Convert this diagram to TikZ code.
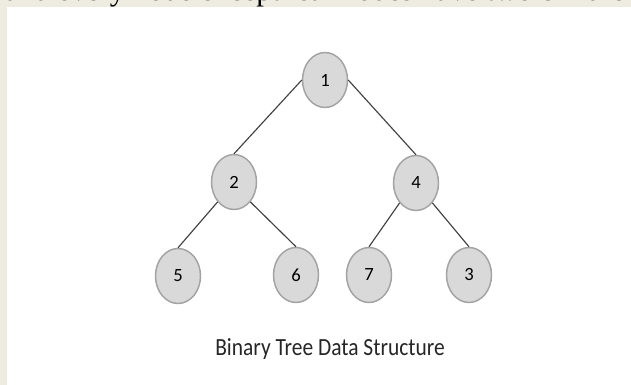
\documentclass[tikz,border=0pt]{standalone}
\usepackage{fontspec}
\setmainfont{Liberation Serif}
\newfontfamily\calibrifont{Carlito}
\usepackage{graphicx}
\usepackage{tikz}
\usetikzlibrary{shapes.geometric}
\definecolor{paper}{RGB}{238,235,224}
\definecolor{nodefill}{RGB}{217,217,217}
\definecolor{nodeline}{RGB}{163,163,163}
\definecolor{branchline}{RGB}{64,64,64}

\begin{document}
\begin{tikzpicture}[x=0.75pt,y=-0.75pt,
  treenode/.style={ellipse,draw=nodeline,line width=1.1pt,fill=nodefill,
    minimum width=33.75pt,minimum height=41.25pt,inner sep=0pt,
    font=\calibrifont\fontsize{14}{14}\selectfont},
  branch/.style={draw=branchline,line width=0.85pt}]
  \useasboundingbox (0,0) rectangle (631,385);
  \fill[paper] (0,0) rectangle (631,385);
  % cut-off line of the page text above the figure
  \begin{scope}
    \clip (0,0) rectangle (631,7);
    \node[anchor=base west,inner sep=0pt,font=\fontsize{23}{23}\selectfont] (pagetext)
      at (5,0.5) {and every node except leaf nodes have two children};
  \end{scope}
  \fill[white] (7,7) rectangle (631,385);
  % tree
  \node[treenode] (n1) at (325,80) {1};
  \node[treenode] (n2) at (234,182) {2};
  \node[treenode] (n4) at (416,183) {4};
  \node[treenode] (n5) at (178,276) {5};
  \node[treenode] (n6) at (296,275) {6};
  \node[treenode] (n7) at (369,275) {7};
  \node[treenode] (n3) at (469,275) {3};
  \draw[branch] (n1.west) -- (n2.north);
  \draw[branch] (n1.east) -- (n4.north);
  \draw[branch] (n2.south west) -- (n5.north);
  \draw[branch] (n2.south east) -- (n6.north);
  \draw[branch] (n4.south west) -- (n7.north);
  \draw[branch] (n4.south east) -- (n3.north);
  \node[anchor=base,inner sep=0pt,font=\calibrifont\fontsize{18.5}{20}\selectfont,
    text=black!85] (caption) at (330,355)
    {\scalebox{0.87}[1]{Binary Tree Data Structure}};
\end{tikzpicture}
\end{document}
